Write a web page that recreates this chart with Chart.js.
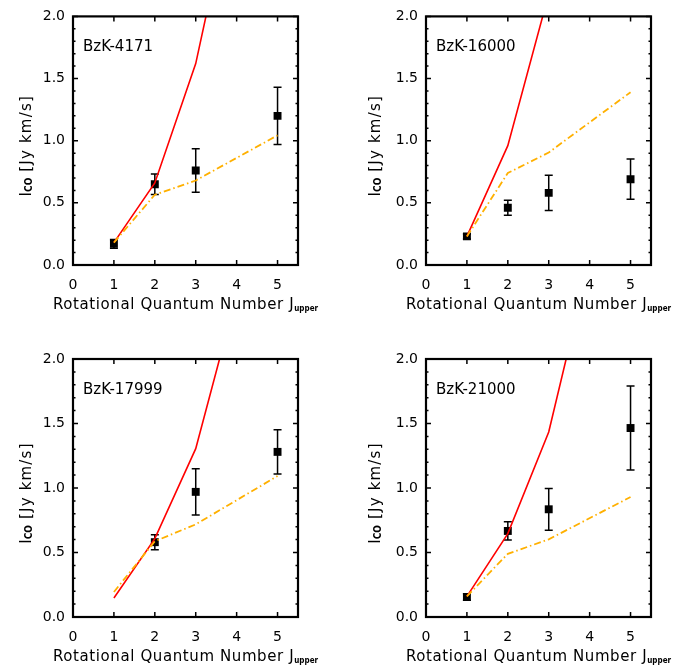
<!DOCTYPE html>
<html><head><meta charset="utf-8">
<script src="https://cdn.jsdelivr.net/npm/chart.js@4"></script>
<style>
html,body{margin:0;padding:0;background:#fff;}
#wrap{position:relative;width:698px;height:668px;background:#fff;}
canvas{position:absolute;}
</style></head><body>
<div id="wrap">
<canvas id="c0" width="349" height="334" style="left:0;top:0"></canvas>
<canvas id="c1" width="349" height="334" style="left:349px;top:0"></canvas>
<canvas id="c2" width="349" height="334" style="left:0;top:334px"></canvas>
<canvas id="c3" width="349" height="334" style="left:349px;top:334px"></canvas>
</div>
<script>
// ---- data ----
const J = [1, 2, 3, 5];
const xTicks = [0, 1, 2, 3, 4, 5];
const yTicks = [0.0, 0.5, 1.0, 1.5, 2.0];
const galaxies = ['BzK-4171', 'BzK-16000', 'BzK-17999', 'BzK-21000'];

const obs4171 = [0.17, 0.65, 0.76, 1.20];
const err4171 = [0.035, 0.083, 0.175, 0.23];
const steep4171 = [0.18, 0.66, 1.62, 4.66];
const flat4171 = [0.18, 0.565, 0.68, 1.043];

const obs16000 = [0.23, 0.46, 0.58, 0.69];
const err16000 = [0.02, 0.06, 0.142, 0.162];
const steep16000 = [0.23, 0.96, 2.18, 4.6];
const flat16000 = [0.23, 0.74, 0.905, 1.39];

const obs17999 = [null, 0.58, 0.97, 1.28];
const err17999 = [null, 0.058, 0.18, 0.172];
const steep17999 = [0.147, 0.607, 1.305, 3.69];
const flat17999 = [0.194, 0.587, 0.718, 1.093];

const obs21000 = [0.155, 0.667, 0.835, 1.465];
const err21000 = [0.025, 0.071, 0.162, 0.325];
const steep21000 = [0.16, 0.646, 1.434, 4.09];
const flat21000 = [0.16, 0.49, 0.602, 0.93];

// ---- drawing ----
const FONT = 'DejaVu Sans';
const panels = [
  {id:'c0', name:galaxies[0], obs:obs4171, err:err4171, steep:steep4171, flat:flat4171, col:0, row:0},
  {id:'c1', name:galaxies[1], obs:obs16000, err:err16000, steep:steep16000, flat:flat16000, col:1, row:0},
  {id:'c2', name:galaxies[2], obs:obs17999, err:err17999, steep:steep17999, flat:flat17999, col:0, row:1},
  {id:'c3', name:galaxies[3], obs:obs21000, err:err21000, steep:steep21000, flat:flat21000, col:1, row:1}
];

function drawRich(ctx, parts, x, y, align) {
  let total = 0;
  const widths = parts.map(p => { ctx.font = p.font; ctx.letterSpacing = (p.ls||0)+'px'; const w = ctx.measureText(p.t).width; total += w; return w; });
  let cx = align === 'center' ? x - total/2 : x;
  parts.forEach((p, i) => {
    ctx.font = p.font; ctx.letterSpacing = (p.ls||0)+'px';
    ctx.fillText(p.t, cx, y + (p.dy||0));
    cx += widths[i];
  });
  ctx.letterSpacing = '0px';
}

const framePlugin = {
  id: 'idlFrame',
  beforeDatasetsDraw(chart) {
    const p = chart.options.plugins.idlFrame;
    const xs = chart.scales.x, ys = chart.scales.y, ctx = chart.ctx;
    ctx.save();
    ctx.strokeStyle = '#000'; ctx.lineWidth = 1.5;
    J.forEach((jv, i) => {
      if (p.obs[i] == null) return;
      const px = xs.getPixelForValue(jv);
      const y1 = ys.getPixelForValue(p.obs[i] + p.err[i]);
      const y2 = ys.getPixelForValue(p.obs[i] - p.err[i]);
      ctx.beginPath();
      ctx.moveTo(px, y1); ctx.lineTo(px, y2);
      ctx.moveTo(px - 4, y1); ctx.lineTo(px + 4, y1);
      ctx.moveTo(px - 4, y2); ctx.lineTo(px + 4, y2);
      ctx.stroke();
    });
    ctx.restore();
  },
  afterDraw(chart) {
    const p = chart.options.plugins.idlFrame;
    const a = chart.chartArea, xs = chart.scales.x, ys = chart.scales.y, ctx = chart.ctx;
    ctx.save();
    ctx.strokeStyle = '#000';
    ctx.lineWidth = 1.5;
    ctx.beginPath();
    xTicks.forEach(v => {
      const px = xs.getPixelForValue(v);
      ctx.moveTo(px, a.bottom); ctx.lineTo(px, a.bottom - 5);
      ctx.moveTo(px, a.top); ctx.lineTo(px, a.top + 5);
    });
    for (let k = 0; k <= 20; k++) {
      const v = k / 10;
      const len = (k % 5 === 0) ? 5 : 2.5;
      const py = ys.getPixelForValue(v);
      ctx.moveTo(a.left, py); ctx.lineTo(a.left + len, py);
      ctx.moveTo(a.right, py); ctx.lineTo(a.right - len, py);
    }
    ctx.stroke();
    ctx.lineWidth = 2.2;
    ctx.strokeRect(a.left, a.top, a.right - a.left, a.bottom - a.top);

    ctx.fillStyle = '#000';
    ctx.textBaseline = 'alphabetic';
    ctx.textAlign = 'left';
    ctx.font = '15px ' + FONT;
    ctx.fillText(p.name, a.left + 10, a.top + 34.5);
    drawRich(ctx, [
      {t:'Rotational Quantum Number J', font:'15px '+FONT, ls:0.6},
      {t:'upper', font:'bold 8px "DejaVu Sans Condensed", '+FONT, dy:2}
    ], (a.left + a.right)/2, a.bottom + 44, 'center');
    ctx.translate(31, (a.top + a.bottom)/2 + 5);
    ctx.rotate(-Math.PI/2);
    drawRich(ctx, [
      {t:'I', font:'15px '+FONT},
      {t:'CO', font:'bold 10px "DejaVu Sans Condensed", '+FONT, dy:1},
      {t:' [Jy km/s]', font:'15px '+FONT, ls:1.2}
    ], 0, 0, 'center');
    ctx.restore();
  }
};

panels.forEach(pn => {
  const W = pn.col === 0 ? 73 : 77;
  const R = pn.col === 0 ? 51 : 47;
  const T = pn.row === 0 ? 6 : 25;
  const H = pn.row === 0 ? 69 : 51;
  const obsPts = [];
  J.forEach((jv, i) => { if (pn.obs[i] != null) obsPts.push({x: jv, y: pn.obs[i]}); });
  new Chart(document.getElementById(pn.id), {
    type: 'scatter',
    data: {
      datasets: [
        {label:'flat', data: J.map((jv,i)=>({x:jv, y:pn.flat[i]})), showLine:true, borderColor:'#FFB000',
         borderWidth:1.8, borderDash:[7,3,1.5,3], pointRadius:0, tension:0, fill:false},
        {label:'steep', data: J.map((jv,i)=>({x:jv, y:pn.steep[i]})), showLine:true, borderColor:'#FF0000',
         borderWidth:1.6, pointRadius:0, tension:0, fill:false},
        {label:'observed', data: obsPts, pointStyle:'rect', pointRadius:5.6, backgroundColor:'#000',
         borderColor:'#000', borderWidth:0}
      ]
    },
    options: {
      responsive:false, animation:false, devicePixelRatio:1,
      layout:{padding:{left:0, right:R, top:T, bottom:0}},
      plugins:{legend:{display:false}, tooltip:{enabled:false}, title:{display:false},
        idlFrame:{name:pn.name, obs:pn.obs, err:pn.err}},
      scales:{
        x:{type:'linear', min:0, max:5.5,
           grid:{display:false, drawTicks:false}, border:{display:false},
           afterFit: s => { s.height = H; },
           afterBuildTicks: s => { s.ticks = xTicks.map(v => ({value:v})); },
           ticks:{padding:12, color:'#000', font:{family:FONT, size:14}, maxRotation:0, autoSkip:false,
                  callback: v => String(v)}},
        y:{type:'linear', min:0, max:2,
           grid:{display:false, drawTicks:false}, border:{display:false},
           afterFit: s => { s.width = W; },
           afterBuildTicks: s => { s.ticks = yTicks.map(v => ({value:v})); },
           ticks:{padding:8, color:'#000', font:{family:FONT, size:14}, autoSkip:false,
                  callback: v => Number(v).toFixed(1)}}
      }
    },
    plugins:[framePlugin]
  });
});
</script>
</body></html>
